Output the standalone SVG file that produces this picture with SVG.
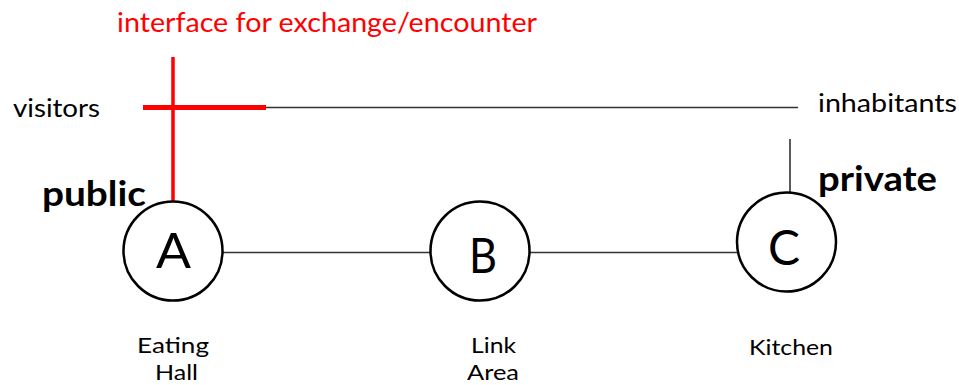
<svg xmlns="http://www.w3.org/2000/svg" width="959" height="385" viewBox="0 0 959 385">
  <style>
    text { font-family: Lato, "Noto Sans", "Liberation Sans", sans-serif; fill: #000; }
    .lbl { font-size: 25px; }
    .cap { font-size: 22px; }
    .big { font-size: 34px; font-weight: bold; }
    .letter { font-size: 48px; }
    .node circle { fill: #fff; stroke: #000; stroke-width: 2.5; }
    .link { stroke: #333; stroke-width: 1.6; fill: none; }
    .red { stroke: #ff0000; fill: none; }
  </style>
  <rect width="959" height="385" fill="#fff"/>

  <g id="connectors">
    <line class="link" x1="143" y1="107.5" x2="798" y2="107.5"/>
    <line class="link" x1="790" y1="139" x2="790" y2="193"/>
    <line class="link" x1="223" y1="252.5" x2="430" y2="252.5"/>
    <line class="link" x1="530" y1="252.5" x2="737" y2="252.5"/>
  </g>

  <g id="interface">
    <line class="red" x1="173" y1="57" x2="173" y2="201" stroke-width="3.5"/>
    <line class="red" x1="143" y1="107.5" x2="266" y2="107.5" stroke-width="5"/>
    <text x="117" y="32" font-size="27" textLength="420" lengthAdjust="spacingAndGlyphs" style="fill:#ff0000">interface for exchange/encounter</text>
  </g>

  <g id="labels">
    <text class="lbl" x="13" y="117" textLength="87" lengthAdjust="spacingAndGlyphs">visitors</text>
    <text class="lbl" x="818" y="112" textLength="139" lengthAdjust="spacingAndGlyphs">inhabitants</text>
    <text class="big" x="42" y="206" textLength="104" lengthAdjust="spacingAndGlyphs">public</text>
    <text class="big" x="818" y="191" textLength="119" lengthAdjust="spacingAndGlyphs">private</text>
  </g>

  <g id="node-a" class="node">
    <circle cx="173" cy="251" r="49.5"/>
    <text class="letter" x="156" y="268" textLength="35" lengthAdjust="spacingAndGlyphs">A</text>
    <text class="cap" x="137" y="353" textLength="72" lengthAdjust="spacingAndGlyphs">Eating</text>
    <text class="cap" x="155" y="380" textLength="43" lengthAdjust="spacingAndGlyphs">Hall</text>
  </g>

  <g id="node-b" class="node">
    <circle cx="480" cy="251" r="49.5"/>
    <text class="letter" x="469" y="273" textLength="28" lengthAdjust="spacingAndGlyphs">B</text>
    <text class="cap" x="471" y="353" textLength="45" lengthAdjust="spacingAndGlyphs">Link</text>
    <text class="cap" x="467" y="380" textLength="52" lengthAdjust="spacingAndGlyphs">Area</text>
  </g>

  <g id="node-c" class="node">
    <circle cx="786.5" cy="242" r="49.5"/>
    <text class="letter" x="768" y="265" textLength="32" lengthAdjust="spacingAndGlyphs">C</text>
    <text class="cap" x="749" y="355" textLength="84" lengthAdjust="spacingAndGlyphs">Kitchen</text>
  </g>
</svg>
